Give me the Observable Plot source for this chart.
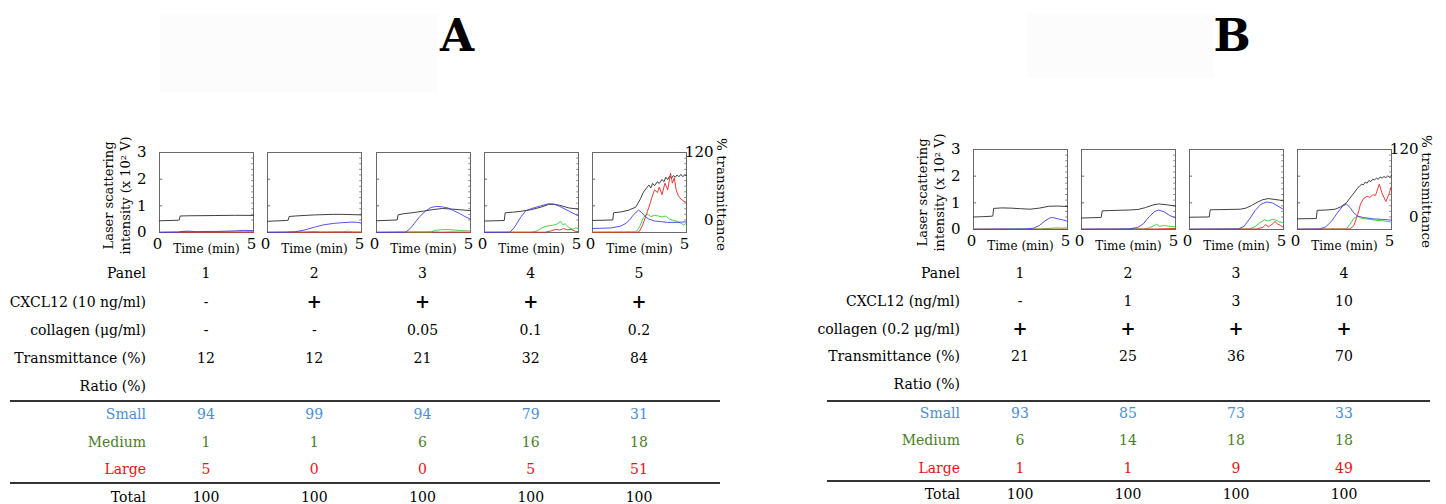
<!DOCTYPE html>
<html><head><meta charset="utf-8">
<script src="https://cdn.jsdelivr.net/npm/d3@7"></script>
<script src="https://cdn.jsdelivr.net/npm/@observablehq/plot@0.6"></script>
<style>
html,body{margin:0;padding:0;background:#fff;}
#root{position:relative;width:1446px;height:504px;overflow:hidden;font-family:"DejaVu Serif",serif;color:#000;}
.abs{position:absolute;white-space:nowrap;line-height:1;}
</style></head>
<body><div id="root"></div>
<script>
// ---------------- data ----------------
// axis ticks / labels
const yTicks = [0, 1, 2, 3];
const xTicks = [0, 5];
const rightTicks = [0, 120];
const rightMinor = [0,10,20,30,40,50,60,70,80,90,100,110,120];
const leftMinor = [1, 2];
const yLabel = "Laser scattering\nintensity (x 10\u00b2 V)";
const xLabel = "Time (min)";
const rightLabel = "% transmittance";

// traces: [time (min), value]; black = % transmittance, colours = scattering intensity (x10^2 V)
const A1_black = [[0,-1.4],[0.5,-1],[1.0,-0.5],[1.05,0],[1.1,7.1],[1.5,7.4],[2,7.6],[3,7.9],[4,8.3],[5,8.1]];
const A1_blue  = [[0,0],[1,0.01],[1.2,0.04],[1.5,0.05],[2,0.03],[2.5,0.04],[3,0.04],[3.5,0.05],[4,0.06],[4.5,0.08],[5,0.07]];
const A1_green = [[0,0.01],[1,0.02],[1.3,0.04],[2,0.02],[3,0.03],[4,0.02],[5,0.03]];
const A1_red   = [[0,0.01],[5,0.01]];

const A2_black = [[0,-2.4],[1.0,-0.9],[1.1,-0.5],[1.15,6.2],[1.5,7.1],[2,8.1],[2.5,9.0],[3,9.5],[3.5,10.0],[4,10.0],[4.5,9.5],[5,9.0]];
const A2_blue  = [[0,0],[1,0.01],[1.5,0.03],[2,0.1],[2.5,0.2],[3,0.29],[3.5,0.34],[4,0.37],[4.5,0.39],[4.8,0.38],[5,0.35]];
const A2_green = [[0,0.01],[2,0.02],[2.6,0.04],[2.8,0.02],[4,0.03],[4.3,0.05],[4.5,0.02],[5,0.02]];
const A2_red   = [[0,0.01],[5,0.01]];

const A3_black = [[0,-1.4],[1.1,0],[1.15,9.0],[1.4,10.9],[2,13.3],[2.5,15.7],[3,18.5],[3.5,20.4],[4,19.4],[4.5,18],[5,16.6]];
const A3_blue  = [[0,0],[1.55,0.01],[1.8,0.15],[2,0.33],[2.3,0.6],[2.6,0.8],[2.9,0.94],[3.2,0.98],[3.5,0.96],[3.8,0.92],[4.1,0.82],[4.4,0.72],[4.7,0.6],[5,0.5]];
const A3_green = [[0,0.01],[2.9,0.01],[3.1,0.08],[3.4,0.1],[3.8,0.11],[4.2,0.09],[4.5,0.07],[5,0.06]];
const A3_red   = [[0,0.01],[3,0.02],[3.5,0.01],[4,0.02],[5,0.01]];

const A4_black = [[0,-1.9],[1.05,-1],[1.1,12.8],[1.5,13.8],[2,15.7],[2.5,18.5],[3,22.8],[3.4,27.5],[3.7,28],[4,26.1],[4.5,21.3],[5,19.4]];
const A4_blue  = [[0,0],[1.35,0.01],[1.6,0.2],[1.9,0.55],[2.2,0.82],[2.6,0.92],[3,1.0],[3.4,1.08],[3.7,1.06],[4,0.98],[4.5,0.8],[5,0.62]];
const A4_green = [[0,0.01],[2.5,0.01],[2.8,0.06],[3,0.15],[3.3,0.24],[3.6,0.27],[3.8,0.3],[3.9,0.34],[4.05,0.42],[4.15,0.3],[4.3,0.32],[4.5,0.18],[4.7,0.12],[4.85,0.18],[5,0.14]];
const A4_red   = [[0,0.01],[3.2,0.01],[3.5,0.05],[3.8,0.12],[4.0,0.09],[4.2,0.15],[4.4,0.1],[4.6,0.12],[4.8,0.05],[5,0.03]];

const A5_black = [[0,-0.9],[1.08,0],[1.12,12.8],[1.5,14.2],[1.9,17.1],[2.3,22.8],[2.55,37.5],[2.7,48.9],[2.9,58],[3.0,62],[3.1,57],[3.2,65],[3.3,61],[3.45,68],[3.55,65],[3.7,72],[3.8,68],[3.9,76],[4.0,72],[4.1,78],[4.2,74],[4.3,79],[4.4,76],[4.5,80],[4.6,77],[4.7,81],[4.8,77],[4.9,80],[5,79]];
const A5_blue  = [[0,0.15],[0.5,0.16],[1,0.17],[1.5,0.24],[1.8,0.35],[2.0,0.5],[2.2,0.68],[2.45,0.84],[2.6,0.76],[2.8,0.6],[3.0,0.5],[3.3,0.43],[3.6,0.41],[4,0.38],[4.5,0.38],[5,0.4]];
const A5_green = [[0,0.01],[2.3,0.02],[2.5,0.2],[2.7,0.55],[2.9,0.7],[3.1,0.6],[3.3,0.64],[3.5,0.62],[3.7,0.58],[3.9,0.62],[4.1,0.5],[4.3,0.45],[4.5,0.42],[4.7,0.35],[4.85,0.28],[5,0.35]];
const A5_red   = [[0,0.01],[2.4,0.01],[2.5,0.05],[2.65,0.25],[2.8,0.55],[3.0,0.95],[3.15,1.3],[3.3,1.6],[3.45,1.5],[3.55,1.7],[3.7,1.42],[3.85,1.85],[4.0,1.6],[4.15,2.22],[4.25,1.85],[4.35,2.05],[4.45,1.6],[4.55,1.4],[4.65,1.3],[4.8,1.2],[5,1.12]];

const B1_black = [[0,0],[0.5,0.5],[1.0,1.4],[1.03,1.9],[1.07,15.2],[1.5,16.1],[2,15.7],[2.5,14.7],[3,13.8],[3.5,15.7],[4,19.0],[4.5,19.4],[5,18.5]];
const B1_blue  = [[0,0.01],[2.8,0.02],[3.2,0.05],[3.5,0.15],[3.8,0.32],[4.05,0.43],[4.2,0.45],[4.5,0.4],[4.8,0.35],[5,0.31]];
const B1_green = [[0,0.01],[3.5,0.02],[4,0.04],[4.4,0.06],[4.7,0.05],[5,0.06]];
const B1_red   = [[0,0.01],[5,0.01]];

const B2_black = [[0,-1.9],[1.0,-0.9],[1.05,-0.5],[1.1,10.9],[1.5,11.4],[2,11.9],[2.5,12.3],[3,13.3],[3.4,16.6],[3.8,21.3],[4.1,23.2],[4.5,21.8],[5,19.4]];
const B2_blue  = [[0,0.01],[2.5,0.02],[3,0.08],[3.3,0.22],[3.6,0.48],[3.9,0.68],[4.1,0.73],[4.4,0.66],[4.7,0.52],[5,0.44]];
const B2_green = [[0,0.01],[3.3,0.02],[3.6,0.06],[3.85,0.14],[4.0,0.2],[4.15,0.12],[4.4,0.15],[4.7,0.12],[5,0.1]];
const B2_red   = [[0,0.01],[4,0.02],[4.5,0.03],[5,0.04]];

const B3_black = [[0,-0.5],[1.05,0],[1.1,12.8],[2,13.3],[2.7,13.8],[3.0,15.7],[3.3,20.4],[3.6,26.1],[3.9,30.8],[4.2,32.7],[4.5,31.3],[4.8,29.9],[5,28.5]];
const B3_blue  = [[0,0.01],[2.6,0.02],[2.9,0.12],[3.2,0.4],[3.5,0.72],[3.8,0.95],[4.1,1.03],[4.4,1.0],[4.7,0.88],[5,0.75]];
const B3_green = [[0,0.01],[3.2,0.02],[3.5,0.12],[3.8,0.28],[4.0,0.36],[4.2,0.32],[4.4,0.38],[4.6,0.35],[4.8,0.28],[5,0.25]];
const B3_red   = [[0,0.01],[3.6,0.02],[3.9,0.08],[4.05,0.18],[4.2,0.1],[4.4,0.2],[4.55,0.3],[4.7,0.2],[4.85,0.15],[5,0.08]];

const B4_black = [[0,-3.3],[1.0,-2.8],[1.05,11.9],[1.5,12.3],[2,13.8],[2.3,18],[2.6,25.1],[2.9,38.4],[3.2,51.2],[3.3,55],[3.4,58],[3.5,57],[3.6,62],[3.7,60],[3.8,65],[3.9,63],[4.0,67],[4.1,66],[4.2,69],[4.3,67],[4.4,71],[4.5,69],[4.6,72],[4.7,70],[4.8,73],[4.9,71],[5,74]];
const B4_blue  = [[0,0.01],[1.2,0.02],[1.5,0.1],[1.8,0.3],[2.1,0.6],[2.4,0.88],[2.6,0.95],[2.8,0.82],[3.0,0.62],[3.2,0.5],[3.5,0.45],[4,0.4],[4.5,0.38],[5,0.35]];
const B4_green = [[0,0.01],[2.6,0.02],[2.8,0.2],[3.0,0.42],[3.2,0.5],[3.4,0.42],[3.6,0.4],[3.9,0.38],[4.2,0.34],[4.5,0.33],[4.8,0.3],[5,0.28]];
const B4_red   = [[0,0.01],[2.8,0.02],[3.0,0.15],[3.2,0.55],[3.35,0.95],[3.5,1.15],[3.7,1.25],[3.85,1.2],[4.0,1.3],[4.15,1.28],[4.35,1.7],[4.5,1.35],[4.7,1.05],[4.85,1.3],[5,1.62]];

// tables
const A_rowLabels = ["Panel","CXCL12 (10 ng/ml)","collagen (\u03bcg/ml)","Transmittance (%)","Ratio (%)","Small","Medium","Large","Total"];
const A_panel = ["1","2","3","4","5"];
const A_cxcl12 = ["-","+","+","+","+"];
const A_collagen = ["-","-","0.05","0.1","0.2"];
const A_trans = [12,12,21,32,84];
const A_small = [94,99,94,79,31];
const A_medium = [1,1,6,16,18];
const A_large = [5,0,0,5,51];
const A_total = [100,100,100,100,100];

const B_rowLabels = ["Panel","CXCL12 (ng/ml)","collagen (0.2 \u03bcg/ml)","Transmittance (%)","Ratio (%)","Small","Medium","Large","Total"];
const B_panel = ["1","2","3","4"];
const B_cxcl12 = ["-","1","3","10"];
const B_collagen = ["+","+","+","+"];
const B_trans = [21,25,36,70];
const B_small = [93,85,73,33];
const B_medium = [6,14,18,18];
const B_large = [1,1,9,49];
const B_total = [100,100,100,100];

// ---------------- styling / layout ----------------
const C = {black:"#2a2a2a", blue:"#3f3fe6", green:"#2fd02f", red:"#ec2222", frame:"#6a6a6a",
           small:"#4a8fd2", medium:"#4b7d28", large:"#ee1111"};
const T0 = 0.47; // intensity level where 0 % transmittance sits
const toI = t => T0 + t * (3 - T0) / 120;
const FW = 94, FH = 80;

const root = document.getElementById("root");
function place(el, left, top) {
  const d = document.createElement("div");
  d.className = "abs"; d.style.left = left + "px"; d.style.top = top + "px";
  d.appendChild(el); root.appendChild(d); return d;
}
function txt(s, x, y, {anchor="middle", size=14, color="#000", weight="normal"} = {}) {
  const d = document.createElement("div");
  d.className = "abs"; d.textContent = s;
  d.style.left = x + "px"; d.style.top = y + "px";
  d.style.fontSize = size + "px"; d.style.color = color; d.style.fontWeight = weight;
  d.style.transform = anchor === "end" ? "translate(-100%,-50%)" : "translate(-50%,-50%)";
  root.appendChild(d); return d;
}

function chart(s, first, last) {
  const xy = {x: d => d[0], y: d => d[1], strokeWidth: 0.9};
  const marks = [
    Plot.frame({stroke: C.frame}),
    Plot.link(leftMinor, {x1: 0, x2: 0.14, y1: d => d, y2: d => d, stroke: C.frame}),
    Plot.link(rightMinor, {x1: 4.88, x2: 5, y1: d => toI(d), y2: d => toI(d), stroke: C.frame, strokeWidth: 0.8}),
    Plot.line(s.black, {x: d => d[0], y: d => toI(d[1]), stroke: C.black, strokeWidth: 0.9}),
    Plot.line(s.green, {...xy, stroke: C.green}),
    Plot.line(s.red, {...xy, stroke: C.red}),
    Plot.line(s.blue, {...xy, stroke: C.blue}),
    Plot.text(xTicks, {x: d => d, y: 0, text: d => String(d), dy: 12, dx: -2, fontSize: 15, fill: "#000", lineAnchor: "middle"}),
    Plot.text([xLabel], {frameAnchor: "bottom", dy: 17, fontSize: 12, fill: "#000", lineAnchor: "middle", textAnchor: "middle"})
  ];
  if (first) marks.push(
    Plot.text(yTicks, {x: 0, y: d => d, text: d => String(d), textAnchor: "end", dx: -13, fontSize: 15, fill: "#000"}),
    Plot.text([yLabel], {frameAnchor: "left", dx: -43, dy: 3, rotate: -90, fontSize: 13, lineHeight: 1.3, fill: "#000", textAnchor: "middle", lineAnchor: "middle"})
  );
  if (last) marks.push(
    Plot.text(rightTicks, {x: 5, y: d => toI(d), text: d => String(d), textAnchor: "end", dx: 27, fontSize: 15, fill: "#000"}),
    Plot.text([rightLabel], {frameAnchor: "right", dx: 35, dy: 2, rotate: 90, fontSize: 13.5, fill: "#000", textAnchor: "middle", lineAnchor: "middle"})
  );
  return Plot.plot({
    width: FW, height: FH, margin: 0,
    x: {domain: [0, 5], axis: null}, y: {domain: [0, 3], axis: null},
    style: {overflow: "visible", background: "transparent", fontFamily: "DejaVu Serif"},
    marks
  });
}

function panel({title, titleX, charts, panels, firstLeft, step, top, rowLabels, rows, labelRight, rowY, lineY, lineX}) {
  const n = panels.length;
  const band = d3.scaleBand().domain(panels)
    .range([firstLeft, firstLeft + step * (n - 1) + FW])
    .paddingInner(1 - FW / step).paddingOuter(0).align(0);
  // title
  const t = document.createElement("div");
  t.className = "abs"; t.textContent = title;
  t.style.cssText += `left:${titleX}px;top:14px;transform:translateX(-50%);font-size:44px;font-weight:bold;font-family:'DejaVu Serif',serif;`;
  root.appendChild(t);
  charts.forEach((s, i) => {
    const d = place(chart(s, i === 0, i === n - 1), band(panels[i]), top);
    d.style.width = FW + "px";
  });
  // table
  rowLabels.forEach((lab, r) => {
    const color = lab === "Small" ? C.small : lab === "Medium" ? C.medium : lab === "Large" ? C.large : "#000";
    txt(lab, labelRight, rowY[r], {anchor: "end", color});
    const vals = rows[r];
    if (!vals) return;
    vals.forEach((v, i) => {
      const cx = band(panels[i]) + band.bandwidth() / 2;
      const isPlus = v === "+";
      txt(String(v), cx, rowY[r], {color, size: isPlus ? 18 : 14, weight: isPlus ? "bold" : "normal"});
    });
  });
  lineY.forEach(y => {
    const l = document.createElement("div");
    l.className = "abs";
    l.style.cssText += `left:${lineX[0]}px;top:${y - 1}px;width:${lineX[1] - lineX[0]}px;height:2px;background:#333;`;
    root.appendChild(l);
  });
}

// faint backdrop boxes behind the titles
[[160,14,278,78],[1027,14,187,64]].forEach(([x,y,w,h]) => {
  const b = document.createElement("div"); b.className = "abs";
  b.style.cssText += `left:${x}px;top:${y}px;width:${w}px;height:${h}px;background:#fcfcfc;`;
  root.appendChild(b);
});

panel({
  title: "A", titleX: 457,
  charts: [
    {black: A1_black, blue: A1_blue, green: A1_green, red: A1_red},
    {black: A2_black, blue: A2_blue, green: A2_green, red: A2_red},
    {black: A3_black, blue: A3_blue, green: A3_green, red: A3_red},
    {black: A4_black, blue: A4_blue, green: A4_green, red: A4_red},
    {black: A5_black, blue: A5_blue, green: A5_green, red: A5_red}
  ],
  panels: A_panel, firstLeft: 159, step: 108.25, top: 152,
  rowLabels: A_rowLabels,
  rows: [A_panel, A_cxcl12, A_collagen, A_trans, null, A_small, A_medium, A_large, A_total],
  labelRight: 146, rowY: [273, 301.5, 329.5, 358, 385.5, 413.5, 441.5, 469, 497],
  lineY: [401, 483], lineX: [10, 720]
});

panel({
  title: "B", titleX: 1232,
  charts: [
    {black: B1_black, blue: B1_blue, green: B1_green, red: B1_red},
    {black: B2_black, blue: B2_blue, green: B2_green, red: B2_red},
    {black: B3_black, blue: B3_blue, green: B3_green, red: B3_red},
    {black: B4_black, blue: B4_blue, green: B4_green, red: B4_red}
  ],
  panels: B_panel, firstLeft: 973, step: 108, top: 149,
  rowLabels: B_rowLabels,
  rows: [B_panel, B_cxcl12, B_collagen, B_trans, null, B_small, B_medium, B_large, B_total],
  labelRight: 960, rowY: [273, 300.5, 328.5, 356, 383.5, 412.5, 440, 467.5, 494],
  lineY: [401, 481], lineX: [827, 1430]
});
</script>
</body></html>
